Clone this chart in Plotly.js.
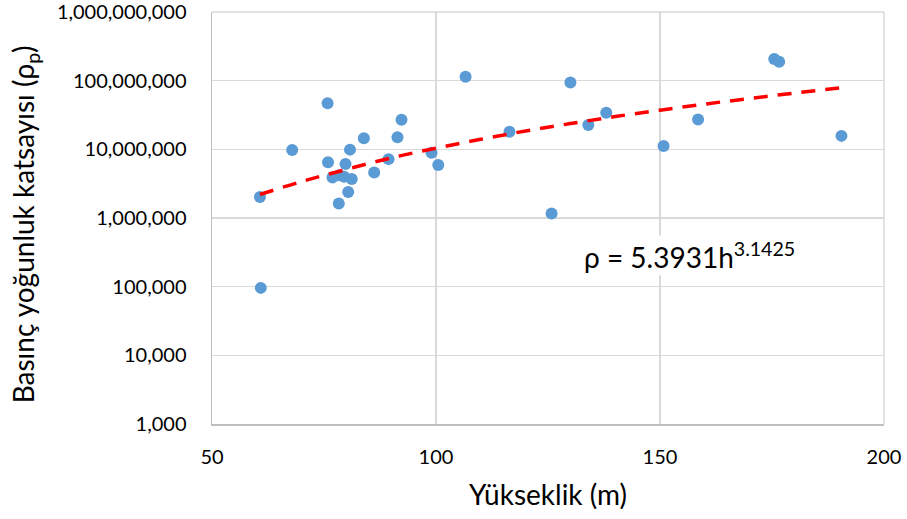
<!DOCTYPE html>
<html>
<head>
<meta charset="utf-8">
<script src="https://cdn.plot.ly/plotly-3.0.1.min.js"></script>
<style>html,body{margin:0;padding:0;background:#fff;}#chart{width:907px;height:519px;}</style>
</head>
<body>
<div id="chart"></div>
<script>
// Observed data points (height in m, pressure density coefficient)
const heights = [60.7, 60.9, 67.9, 75.8, 75.9, 76.9, 78.4, 78.3, 79.8, 79.5, 81.2, 80.4, 80.8, 83.9, 86.2, 89.4, 91.4, 92.3, 99.0, 100.5, 106.6, 116.4, 130.0, 125.8, 134.0, 138.0, 150.8, 158.5, 175.5, 176.6, 190.5];
const rhoValues = [2.02e6, 9.6e4, 9.8e6, 4.7e7, 6.5e6, 3.9e6, 4.2e6, 1.63e6, 6.1e6, 4.0e6, 3.7e6, 2.4e6, 9.9e6, 1.45e7, 4.6e6, 7.2e6, 1.5e7, 2.7e7, 8.9e6, 5.9e6, 1.14e8, 1.81e7, 9.4e7, 1.16e6, 2.26e7, 3.42e7, 1.12e7, 2.71e7, 2.06e8, 1.88e8, 1.57e7];

// Trend line values
const trendX = [60.7, 70, 80, 90, 100, 110, 120, 130, 140, 150, 160, 170, 180, 190.5];
const trendY = [2.2e6, 3.4e6, 5.1e6, 7.5e6, 1.04e7, 1.4e7, 1.85e7, 2.37e7, 3.0e7, 3.72e7, 4.56e7, 5.5e7, 6.6e7, 7.9e7];

// Axis ticks
const yTickVals = [1e3, 1e4, 1e5, 1e6, 1e7, 1e8, 1e9];
const yTickText = ["1,000", "10,000", "100,000", "1,000,000", "10,000,000", "100,000,000", "1,000,000,000"];
const xTickVals = [50, 100, 150, 200];
const yTitle = "Basınç yoğunluk katsayısı (ρ<sub>p</sub>)";
const xTitle = "Yükseklik (m)";

const FONT = "Lato, Open Sans, sans-serif";

const traces = [
  {
    x: heights, y: rhoValues, type: "scatter", mode: "markers",
    marker: {color: "#5B9BD5", size: 12},
    showlegend: false, hoverinfo: "x+y"
  },
  {
    x: trendX, y: trendY, type: "scatter", mode: "lines",
    line: {color: "#FF0000", width: 3.5, dash: "14px,10px", shape: "spline"},
    showlegend: false, hoverinfo: "skip"
  }
];

const layout = {
  width: 907, height: 519,
  margin: {l: 212, r: 23, t: 12, b: 95},
  paper_bgcolor: "#ffffff", plot_bgcolor: "#ffffff",
  font: {family: FONT, color: "#000000", size: 20},
  xaxis: {
    range: [50, 200], tickvals: xTickVals, ticks: "", ticklabelstandoff: 14,
    showgrid: true, gridcolor: "#D9D9D9", gridwidth: 1.5,
    showline: true, linecolor: "#BFBFBF", linewidth: 1.5, zeroline: false,
    tickfont: {family: FONT, size: 20, color: "#000"},
    title: {text: xTitle, font: {family: FONT, size: 28, color: "#000"}, standoff: 19}
  },
  yaxis: {
    type: "log", range: [3, 9], tickvals: yTickVals, ticktext: yTickText, ticks: "",
    ticklabelstandoff: 20, ticklabeloverflow: "allow",
    showgrid: true, gridcolor: "#D9D9D9", gridwidth: 1.5,
    showline: true, linecolor: "#BFBFBF", linewidth: 1.5, zeroline: false,
    tickfont: {family: FONT, size: 20, color: "#000"}
  },
  shapes: [
    {type: "line", xref: "paper", yref: "paper", x0: 1, x1: 1, y0: 0, y1: 1, line: {color: "#D9D9D9", width: 1.5}},
    {type: "line", xref: "paper", yref: "paper", x0: 0, x1: 1, y0: 1, y1: 1, line: {color: "#D9D9D9", width: 1.5}}
  ],
  annotations: [
    {
      xref: "paper", yref: "paper", x: -0.278, y: 0.485, xanchor: "center", yanchor: "middle",
      text: yTitle, textangle: -90, showarrow: false,
      font: {family: FONT, size: 28, color: "#000"}
    },
    {
      xref: "x", yref: "y", x: 132.6, y: 5.45, xanchor: "left", yanchor: "middle",
      text: "ρ = 5.3931h<sup>3.1425</sup>", showarrow: false,
      bgcolor: "#ffffff",
      font: {family: FONT, size: 28, color: "#000"}
    }
  ]
};

Plotly.newPlot("chart", traces, layout, {displayModeBar: false, staticPlot: true});
</script>
</body>
</html>
